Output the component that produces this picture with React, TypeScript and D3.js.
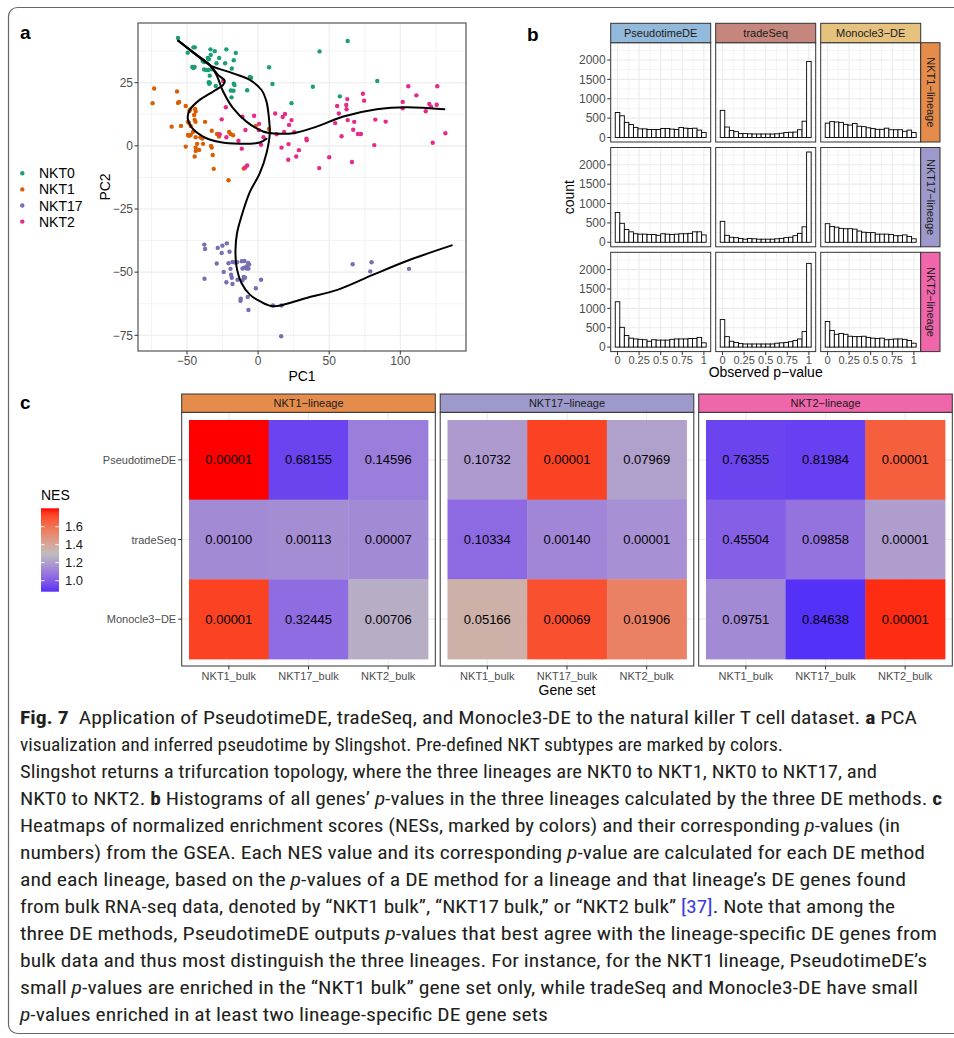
import React from "react";
import * as d3 from "d3";

// ---------- panel a : PCA + slingshot curves ----------
const groupNames = ["NKT0", "NKT1", "NKT17", "NKT2"];
const groupColors = ["#1B9E77", "#D95F02", "#7570B3", "#E7298A"];

const nkt0Pts: [number, number][] = [
  [-56.3, 42.7], [-49.5, 36.9], [-45.5, 39], [-44.5, 39], [-33.5, 38.2], [-30.5, 37.5], [-22.3, 38.2],
  [-15.7, 36.8], [-33.3, 36], [-35.4, 34.8], [-34.6, 34.3], [-27.4, 34.8], [-38, 33.2], [-39, 33.6],
  [-29.3, 32.7], [-23.2, 32.7], [-17.1, 33.9], [-46.3, 31.2], [-45.5, 30.8], [-44.6, 31.2], [-38, 30.2],
  [-36.4, 30], [-35, 30], [-32.4, 30.3], [-18.5, 30.6], [-34, 27.8], [-34.7, 25.2], [-34, 25],
  [-34.4, 24.6], [-29.8, 23.7], [-17.1, 24.6], [-16.6, 24.1], [-19.2, 21.9], [-17.3, 21.8], [-7.7, 22],
  [-18.7, 19.2], [-5.8, 27.3], [-4.9, 27], [7.7, 31.1], [10.1, 24.5], [43.2, 37.4], [63, 41.5],
  [38.5, 23.4], [23.5, 16.9], [57.5, 19.6], [83.8, 25.7],
];
const nkt1Pts: [number, number][] = [
  [-73.1, 22.7], [-74.2, 16.9], [-57, 21.5], [-56.3, 17], [-55.5, 17.4], [-50.9, 15.8], [-60.8, 7.6],
  [-54.2, 7.9], [-48.3, 13.8], [-47.7, 14.4], [-44.3, 14.6], [-43.9, 13.6], [-45, 12.2], [-49.3, 9.5],
  [-48.6, 9.1], [-44.6, 10.3], [-44, 9.5], [-47.4, 7.9], [-37.3, 9.5], [-49.3, 4.3], [-48.6, 4],
  [-47.4, 4.3], [-45.8, 5.5], [-43.9, 3.4], [-40.6, 3.4], [-39.2, 2.9], [-42.9, 0.8], [-50.9, -0.3],
  [-43.9, -0.7], [-38.7, 0.8], [-33.1, 0], [-32.6, -0.7], [-43.9, -2], [-44.6, -4.2], [-41.5, -1.6],
  [-32.6, 6], [-28.9, 4.7], [-27.5, 3.7], [-20.4, 5.5], [-19.4, 4.7], [-17.6, 4.2], [-31.9, -3.6],
  [-31.2, -9.1], [-20.8, -13.6], [-10.1, -9], [-1.6, 7.9], [7.7, 6.7],
];
const nkt17Pts: [number, number][] = [
  [-37.8, -39.1], [-37.3, -40.8], [-28.4, -40.4], [-25.6, -42.4], [-25.1, -39.5], [-22, -38.6],
  [-20.1, -41.9], [-29.1, -46.6], [-20.8, -46.5], [-18, -46], [-16.2, -46.2], [-14.8, -46.1],
  [-11.5, -45.7], [-9.6, -45.6], [-7, -46.4], [-6.3, -47], [-8.2, -47.7], [-10.1, -48.3], [-11, -48.6],
  [-6.8, -48.6], [-8, -48.6], [-19.4, -48.7], [-24.2, -49.9], [-19, -51], [-18.5, -52.2], [-37.7, -52.6],
  [-10.1, -51.9], [-9.2, -52.2], [-14.5, -53], [-11, -53.2], [2.1, -53], [-22.3, -54], [-18, -54.7],
  [-1.6, -56.4], [-12.2, -60.5], [-12.4, -61.3], [-7.3, -59.8], [-6.8, -65], [10.4, -63.2], [16.5, -63.2],
  [16.2, -75.4], [66.5, -46.9], [79.8, -46.1], [78.9, -49.7], [106.1, -48.7],
];
const nkt2Pts: [number, number][] = [
  [-24.6, 25.7], [-22.7, 15.3], [-25.6, 10.5], [-27, 4.6], [-22.3, 3.4], [-13.8, 2], [-11, 11.5],
  [-8.9, 6.3], [-11.5, -1.1], [-7.7, -7.8], [-9.1, -8.6], [-2.8, 11.9], [0.7, 8.7], [0.5, 6.3],
  [3.8, 3.4], [2.1, 0.4], [12, 12.8], [17.3, 11.4], [18.9, 12.6], [23.5, 10.2], [21.8, 8.3], [18.3, 5.5],
  [13, 4.6], [25.4, 5.4], [34, 2.8], [34.2, 2.2], [21.4, 0.7], [16.5, -0.7], [28.7, -1.7], [26.8, -4.2],
  [21.2, -5.5], [50, -4.5], [43, -8.8], [55.6, 15.8], [56.8, 12.8], [62, 16.2], [62.7, 18.5], [62.2, 14.5],
  [73.7, 20.6], [74.6, 17.9], [63, 10.2], [67.6, 9.5], [54.2, 9], [66.9, 6.4], [70.2, 4.7], [72.3, 4.7],
  [58.7, 3.8], [82.4, 10.4], [89.7, 9.6], [81.7, 0.3], [66, -6.4], [105.6, 23.6], [111.3, 20], [126, 23.6],
  [101.7, 17.4], [101.7, 14.9], [120.4, 16.6], [121.6, 15.5], [125.6, 16.3], [117.9, 13.7], [131.7, 5],
  [122.8, 1.2],
];

const curveNKT1: [number, number][] = [
  [-56.1, 41.6], [-45, 36.7], [-34, 32], [-28.2, 28.1], [-23.5, 25.8], [-24.6, 24.1], [-31.7, 21.5],
  [-41.1, 18.2], [-48.1, 14.2], [-49.5, 10.9], [-46.9, 7.4], [-38.7, 3.7], [-27, 1.5], [-12.9, 0.8],
  [1.2, 1.3], [5.9, 2.8],
];
const curveNKT17: [number, number][] = [
  [-56.1, 41.6], [-45, 36.7], [-34, 32], [-17.6, 28.7], [-5.8, 26.1], [2.4, 22.1], [5.9, 17.5], [7.5, 11.6],
  [8.2, 5], [5.9, -2.9], [1.2, -10.8], [-6, -18.5], [-11.7, -27.9], [-14.8, -34.5], [-15.9, -41.1],
  [-15.2, -47.7], [-11.7, -54.3], [-5.8, -58.9], [1.2, -61.5], [10.6, -63.5], [34.1, -60.2], [56.3, -56.9],
  [81, -51], [106.8, -45.1], [136.2, -39.4],
];
const curveNKT2: [number, number][] = [
  [-56.1, 41.6], [-45, 36.7], [-34, 32], [-29.3, 28.1], [-24.6, 21.5], [-17.6, 14.9], [-8.2, 9.6],
  [3.5, 5.7], [12, 4.9], [24.6, 5], [41.1, 7.6], [59.9, 11.6], [83.4, 14.5], [104.5, 15.3], [131, 14.5],
];

// ---------- panel b : p-value histograms (20 bins) ----------
const methods = ["PseudotimeDE", "tradeSeq", "Monocle3-DE"];
const methodColors = ["#93BADA", "#C5877D", "#E6C27F"];
const lineages = ["NKT1-lineage", "NKT17-lineage", "NKT2-lineage"];
const lineageColors = ["#E58C4C", "#9D9ACB", "#EF67AA"];

const histNKT1Pseudo = [645, 560, 390, 335, 260, 222, 222, 207, 207, 207, 232, 232, 216, 207, 258, 240, 232, 240, 190, 130];
const histNKT1Trade = [700, 270, 180, 150, 100, 100, 95, 90, 90, 90, 90, 90, 95, 110, 130, 135, 140, 200, 420, 1960];
const histNKT1Mono = [370, 410, 400, 390, 340, 320, 360, 290, 280, 250, 230, 210, 210, 240, 200, 200, 200, 160, 190, 130];
const histNKT17Pseudo = [770, 490, 330, 270, 220, 210, 210, 200, 200, 180, 220, 210, 200, 210, 220, 220, 230, 270, 270, 190];
const histNKT17Trade = [540, 180, 130, 120, 100, 80, 100, 90, 80, 80, 80, 80, 90, 100, 120, 130, 170, 230, 400, 2330];
const histNKT17Mono = [480, 410, 390, 360, 350, 350, 340, 290, 260, 250, 250, 210, 210, 210, 200, 170, 170, 190, 150, 90];
const histNKT2Pseudo = [1170, 510, 300, 230, 210, 200, 190, 150, 190, 180, 180, 180, 200, 210, 210, 210, 220, 220, 250, 110];
const histNKT2Trade = [710, 270, 150, 120, 90, 80, 80, 80, 80, 80, 80, 80, 100, 110, 120, 140, 170, 210, 400, 2160];
const histNKT2Mono = [660, 430, 330, 350, 330, 280, 270, 270, 280, 250, 230, 220, 230, 190, 200, 210, 210, 200, 170, 100];

const histTable = [
  [histNKT1Pseudo, histNKT1Trade, histNKT1Mono],
  [histNKT17Pseudo, histNKT17Trade, histNKT17Mono],
  [histNKT2Pseudo, histNKT2Trade, histNKT2Mono],
];
const countTicks = [0, 500, 1000, 1500, 2000];
const pTicks = [0, 0.25, 0.5, 0.75, 1];
const pTickLabels = ["0", "0.25", "0.5", "0.75", "1"];

// ---------- panel c : NES heatmaps ----------
const geneSets = ["NKT1_bulk", "NKT17_bulk", "NKT2_bulk"];
const nesNKT1 = [[1.804, 0.93, 1.10], [1.14, 1.15, 1.14], [1.73, 1.05, 1.25]];
const nesNKT17 = [[1.19, 1.73, 1.21], [1.04, 1.13, 1.16], [1.36, 1.70, 1.55]];
const nesNKT2 = [[0.93, 0.92, 1.66], [1.01, 1.07, 1.20], [1.14, 0.878, 1.77]];
const pvNKT1 = [["0.00001", "0.68155", "0.14596"], ["0.00100", "0.00113", "0.00007"], ["0.00001", "0.32445", "0.00706"]];
const pvNKT17 = [["0.10732", "0.00001", "0.07969"], ["0.10334", "0.00140", "0.00001"], ["0.05166", "0.00069", "0.01906"]];
const pvNKT2 = [["0.76355", "0.81984", "0.00001"], ["0.45504", "0.09858", "0.00001"], ["0.09751", "0.84638", "0.00001"]];
const nesBreaks = [1.0, 1.2, 1.4, 1.6];

// ---------- caption ----------
type Seg = [string, string];
const captionLines: Seg[][] = [
  [["Fig. 7", "b"], ["  Application of PseudotimeDE, tradeSeq, and Monocle3-DE to the natural killer T cell dataset. ", ""], ["a", "b"], [" PCA", ""]],
  [["visualization and inferred pseudotime by Slingshot. Pre-defined NKT subtypes are marked by colors.", ""]],
  [["Slingshot returns a trifurcation topology, where the three lineages are NKT0 to NKT1, NKT0 to NKT17, and", ""]],
  [["NKT0 to NKT2. ", ""], ["b", "b"], [" Histograms of all genes\u2019 ", ""], ["p", "i"], ["-values in the three lineages calculated by the three DE methods. ", ""], ["c", "b"]],
  [["Heatmaps of normalized enrichment scores (NESs, marked by colors) and their corresponding ", ""], ["p", "i"], ["-values (in", ""]],
  [["numbers) from the GSEA. Each NES value and its corresponding ", ""], ["p", "i"], ["-value are calculated for each DE method", ""]],
  [["and each lineage, based on the ", ""], ["p", "i"], ["-values of a DE method for a lineage and that lineage\u2019s DE genes found", ""]],
  [["from bulk RNA-seq data, denoted by \u201CNKT1 bulk\u201D, \u201CNKT17 bulk,\u201D or \u201CNKT2 bulk\u201D ", ""], ["[37]", "l"], [". Note that among the", ""]],
  [["three DE methods, PseudotimeDE outputs ", ""], ["p", "i"], ["-values that best agree with the lineage-specific DE genes from", ""]],
  [["bulk data and thus most distinguish the three lineages. For instance, for the NKT1 lineage, PseudotimeDE\u2019s", ""]],
  [["small ", ""], ["p", "i"], ["-values are enriched in the \u201CNKT1 bulk\u201D gene set only, while tradeSeq and Monocle3-DE have small", ""]],
  [["p", "i"], ["-values enriched in at least two lineage-specific DE gene sets", ""]],
];
const captionEnds = [917, 783, 877, 942, 900, 925, 906, 895, 937, 927, 918, 548];

const FONT = "'Liberation Sans', Arial, Helvetica, sans-serif";
const AXIS_GREY = "#4D4D4D";
const GRID = "#EBEBEB";
const minus = (s: string) => s.replace(/-/g, "\u2212");

function PanelA() {
  const left = 138, right = 466, top = 23, bottom = 351;
  const x = d3.scaleLinear().domain([-50, 100]).range([187, 400.3]);
  const y = d3.scaleLinear().domain([-75, 25]).range([335.3, 82.7]);
  const xMajor = [-50, 0, 50, 100];
  const xMinor = [-75, -25, 25, 75, 125];
  const yMajor = [-75, -50, -25, 0, 25];
  const yMinor = [-62.5, -37.5, -12.5, 12.5, 37.5];
  const line = d3.line<[number, number]>().x(d => x(d[0])).y(d => y(d[1])).curve(d3.curveCatmullRom.alpha(0.5));
  const groups = [nkt0Pts, nkt1Pts, nkt17Pts, nkt2Pts];
  const fmt = (v: number) => minus(String(v));

  return (
    <g>
      <text x={20} y={39} fontSize={19} fontWeight="bold">a</text>
      <rect x={left} y={top} width={right - left} height={bottom - top} fill="#fff" />
      {xMinor.map(v => <line key={"xm" + v} x1={x(v)} x2={x(v)} y1={top} y2={bottom} stroke={GRID} strokeWidth={0.6} />)}
      {yMinor.map(v => <line key={"ym" + v} y1={y(v)} y2={y(v)} x1={left} x2={right} stroke={GRID} strokeWidth={0.6} />)}
      {xMajor.map(v => <line key={"xM" + v} x1={x(v)} x2={x(v)} y1={top} y2={bottom} stroke={GRID} strokeWidth={1.1} />)}
      {yMajor.map(v => <line key={"yM" + v} y1={y(v)} y2={y(v)} x1={left} x2={right} stroke={GRID} strokeWidth={1.1} />)}
      {groups.map((pts, gi) =>
        pts.map((p, k) => <circle key={gi + "-" + k} cx={x(p[0])} cy={y(p[1])} r={2.2} fill={groupColors[gi]} />)
      )}
      {[curveNKT1, curveNKT17, curveNKT2].map((c, i) => (
        <path key={"c" + i} d={line(c) || ""} fill="none" stroke="#000" strokeWidth={2} strokeLinejoin="round" strokeLinecap="round" />
      ))}
      <rect x={left} y={top} width={right - left} height={bottom - top} fill="none" stroke="#333" strokeWidth={1} />
      {xMajor.map(v => (
        <g key={"xt" + v}>
          <line x1={x(v)} x2={x(v)} y1={bottom} y2={bottom + 3.5} stroke="#333" />
          <text x={x(v)} y={365} fontSize={12} fill={AXIS_GREY} textAnchor="middle">{fmt(v)}</text>
        </g>
      ))}
      {yMajor.map(v => (
        <g key={"yt" + v}>
          <line x1={left - 3.5} x2={left} y1={y(v)} y2={y(v)} stroke="#333" />
          <text x={133} y={y(v) + 4.2} fontSize={12} fill={AXIS_GREY} textAnchor="end">{fmt(v)}</text>
        </g>
      ))}
      <text x={(left + right) / 2} y={381} fontSize={14} textAnchor="middle">PC1</text>
      <text transform={`translate(110,${(top + bottom) / 2}) rotate(-90)`} fontSize={14} textAnchor="middle">PC2</text>
      {groupNames.map((g, i) => (
        <g key={g}>
          <circle cx={22.3} cy={173.3 + i * 16.1} r={2.2} fill={groupColors[i]} />
          <text x={39} y={173.3 + i * 16.1 + 5} fontSize={14}>{g}</text>
        </g>
      ))}
    </g>
  );
}

function PanelB() {
  const L0 = 610.7, PW = 100, gapX = 105;
  const T0 = 42.7, PH = 99.3, gapY = 104.8;
  const binW = 1 / 19;
  const yDom: [number, number] = [-116.5, 2446.5];
  const pMinor = [0.125, 0.375, 0.625, 0.875];
  const cMinor = [250, 750, 1250, 1750, 2250];
  const panels: JSX.Element[] = [];
  lineages.forEach((lin, i) => {
    methods.forEach((m, j) => {
      const L = L0 + j * gapX, T = T0 + i * gapY;
      const xs = d3.scaleLinear().domain([-0.0789, 1.0789]).range([L, L + PW]);
      const ys = d3.scaleLinear().domain(yDom).range([T + PH, T]);
      const counts = histTable[i][j];
      panels.push(
        <g key={i + "-" + j}>
          <rect x={L} y={T} width={PW} height={PH} fill="#fff" />
          {pMinor.map(v => <line key={"pm" + v} x1={xs(v)} x2={xs(v)} y1={T} y2={T + PH} stroke={GRID} strokeWidth={0.6} />)}
          {cMinor.map(v => <line key={"cm" + v} y1={ys(v)} y2={ys(v)} x1={L} x2={L + PW} stroke={GRID} strokeWidth={0.6} />)}
          {pTicks.map(v => <line key={"pM" + v} x1={xs(v)} x2={xs(v)} y1={T} y2={T + PH} stroke={GRID} strokeWidth={1.1} />)}
          {countTicks.map(v => <line key={"cM" + v} y1={ys(v)} y2={ys(v)} x1={L} x2={L + PW} stroke={GRID} strokeWidth={1.1} />)}
          {counts.map((c, k) => {
            const x0 = xs(k * binW - binW / 2), x1 = xs(k * binW + binW / 2);
            return <rect key={k} x={x0} y={ys(c)} width={x1 - x0} height={ys(0) - ys(c)} fill="#fff" stroke="#000" strokeWidth={0.9} />;
          })}
          <rect x={L} y={T} width={PW} height={PH} fill="none" stroke="#333" strokeWidth={1} />
          {j === 0 && countTicks.map(v => (
            <g key={"yt" + v}>
              <line x1={L - 3.5} x2={L} y1={ys(v)} y2={ys(v)} stroke="#333" />
              <text x={L - 5} y={ys(v) + 4.2} fontSize={12} fill={AXIS_GREY} textAnchor="end">{v}</text>
            </g>
          ))}
          {i === 2 && pTicks.map((v, k) => (
            <g key={"xt" + v}>
              <line x1={xs(v)} x2={xs(v)} y1={T + PH} y2={T + PH + 3.5} stroke="#333" />
              <text x={xs(v)} y={364} fontSize={11} fill={AXIS_GREY} textAnchor="middle">{pTickLabels[k]}</text>
            </g>
          ))}
        </g>
      );
    });
  });
  return (
    <g>
      <text x={527} y={41} fontSize={19} fontWeight="bold">b</text>
      {panels}
      {methods.map((m, j) => (
        <g key={m}>
          <rect x={L0 + j * gapX} y={23.3} width={PW} height={19.4} fill={methodColors[j]} stroke="#333" strokeWidth={1} />
          <text x={L0 + j * gapX + PW / 2} y={37} fontSize={11} fill="#1A1A1A" textAnchor="middle">{minus(m)}</text>
        </g>
      ))}
      {lineages.map((lin, i) => (
        <g key={lin}>
          <rect x={920.7} y={T0 + i * gapY} width={19.3} height={PH} fill={lineageColors[i]} stroke="#333" strokeWidth={1} />
          <text transform={`translate(926.5,${T0 + i * gapY + PH / 2}) rotate(90)`} fontSize={11} fill="#1A1A1A" textAnchor="middle">{minus(lin)}</text>
        </g>
      ))}
      <text transform={`translate(574,${(T0 + T0 + 2 * gapY + PH) / 2}) rotate(-90)`} fontSize={14} textAnchor="middle">count</text>
      <text x={L0 + (2 * gapX + PW) / 2} y={377} fontSize={14} textAnchor="middle">{minus("Observed p-value")}</text>
    </g>
  );
}

function PanelC() {
  const color = d3.scaleLinear<string>()
    .domain([0.796, 1.3, 1.804])
    .range(["#0000FF", "#BEBEBE", "#FF0000"])
    .interpolate(d3.interpolateLab);
  const P0 = 181.7, PW = 253.6, gap = 258.5;
  const stripTop = 394, panelTop = 412.3, panelBot = 666;
  const nes = [nesNKT1, nesNKT17, nesNKT2];
  const pv = [pvNKT1, pvNKT17, pvNKT2];
  const yb = d3.scaleBand().domain(methods).range([420, 659]);
  const barTop = 508.3, barBot = 591.7;
  const legY = d3.scaleLinear().domain([0.878, 1.804]).range([barBot, barTop]);
  const stops = d3.range(0, 21).map(k => 0.878 + (k / 20) * (1.804 - 0.878));

  return (
    <g>
      <text x={20} y={409} fontSize={19} fontWeight="bold">c</text>
      {lineages.map((lin, k) => {
        const P = P0 + k * gap;
        const xb = d3.scaleBand().domain(geneSets).range([P + 7.3, P + 246.3]);
        return (
          <g key={lin}>
            <rect x={P} y={panelTop} width={PW} height={panelBot - panelTop} fill="#fff" />
            {geneSets.map(g => <line key={"gx" + g} x1={xb(g)! + xb.bandwidth() / 2} x2={xb(g)! + xb.bandwidth() / 2} y1={panelTop} y2={panelBot} stroke={GRID} strokeWidth={1.1} />)}
            {methods.map(m => <line key={"gy" + m} y1={yb(m)! + yb.bandwidth() / 2} y2={yb(m)! + yb.bandwidth() / 2} x1={P} x2={P + PW} stroke={GRID} strokeWidth={1.1} />)}
            {methods.map((m, r) =>
              geneSets.map((g, c) => (
                <g key={m + g}>
                  <rect x={xb(g)!} y={yb(m)!} width={xb.bandwidth() + 0.4} height={yb.bandwidth() + 0.4} fill={color(nes[k][r][c])} />
                  <text x={xb(g)! + xb.bandwidth() / 2} y={yb(m)! + yb.bandwidth() / 2 + 4.6} fontSize={13} textAnchor="middle" fill="#000">{pv[k][r][c]}</text>
                </g>
              ))
            )}
            <rect x={P} y={panelTop} width={PW} height={panelBot - panelTop} fill="none" stroke="#333" strokeWidth={1} />
            <rect x={P} y={stripTop} width={PW} height={panelTop - stripTop} fill={lineageColors[k]} stroke="#333" strokeWidth={1} />
            <text x={P + PW / 2} y={stripTop + 13.3} fontSize={11} textAnchor="middle" fill="#1A1A1A">{minus(lin)}</text>
            {geneSets.map(g => (
              <g key={"xl" + g}>
                <line x1={xb(g)! + xb.bandwidth() / 2} x2={xb(g)! + xb.bandwidth() / 2} y1={panelBot} y2={panelBot + 3.5} stroke="#333" />
                <text x={xb(g)! + xb.bandwidth() / 2} y={679.5} fontSize={11} textAnchor="middle" fill={AXIS_GREY}>{g}</text>
              </g>
            ))}
            {k === 0 && methods.map(m => (
              <g key={"yl" + m}>
                <line x1={P - 3.5} x2={P} y1={yb(m)! + yb.bandwidth() / 2} y2={yb(m)! + yb.bandwidth() / 2} stroke="#333" />
                <text x={P - 5.5} y={yb(m)! + yb.bandwidth() / 2 + 4} fontSize={11} textAnchor="end" fill={AXIS_GREY}>{minus(m)}</text>
              </g>
            ))}
          </g>
        );
      })}
      <text x={P0 + gap + PW / 2} y={695} fontSize={14} textAnchor="middle">Gene set</text>
      <defs>
        <linearGradient id="nesGrad" x1="0" y1="1" x2="0" y2="0">
          {stops.map((v, k) => <stop key={k} offset={`${(k / 20) * 100}%`} stopColor={color(v)} />)}
        </linearGradient>
      </defs>
      <text x={41} y={500} fontSize={14}>NES</text>
      <rect x={41} y={barTop} width={18} height={barBot - barTop} fill="url(#nesGrad)" />
      {nesBreaks.map(v => (
        <g key={"lb" + v}>
          <line x1={41} x2={44.6} y1={legY(v)} y2={legY(v)} stroke="#fff" strokeWidth={0.9} />
          <line x1={55.4} x2={59} y1={legY(v)} y2={legY(v)} stroke="#fff" strokeWidth={0.9} />
          <text x={65} y={legY(v) + 4.6} fontSize={13} fill="#1A1A1A">{v.toFixed(1)}</text>
        </g>
      ))}
    </g>
  );
}

function Caption() {
  const capFont = "'Liberation Sans Narrow', 'Roboto Condensed', Roboto, sans-serif";
  return (
    <g fontFamily={capFont} fontSize={18.5} fill="#231F20">
      {captionLines.map((segs, i) => (
        <text key={i} x={20} y={724 + i * 27} textLength={captionEnds[i] - 20} lengthAdjust="spacingAndGlyphs" xmlSpace="preserve">
          {segs.map((s, k) => (
            <tspan key={k}
              fontWeight={s[1] === "b" ? "bold" : "normal"}
              fontStyle={s[1] === "i" ? "italic" : "normal"}
              fill={s[1] === "l" ? "#3B3BD9" : "#231F20"}>{s[0]}</tspan>
          ))}
        </text>
      ))}
    </g>
  );
}

export default function App() {
  return (
    <svg width={954} height={1038} style={{ position: "absolute", left: 0, top: 0, background: "#fff" }} fontFamily={FONT}>
      <rect x={0} y={0} width={954} height={1038} fill="#fff" />
      <rect x={8.5} y={7.5} width={960} height={1026} rx={9} fill="none" stroke="#666" strokeWidth={1.2} />
      <PanelA />
      <PanelB />
      <PanelC />
      <Caption />
    </svg>
  );
}
